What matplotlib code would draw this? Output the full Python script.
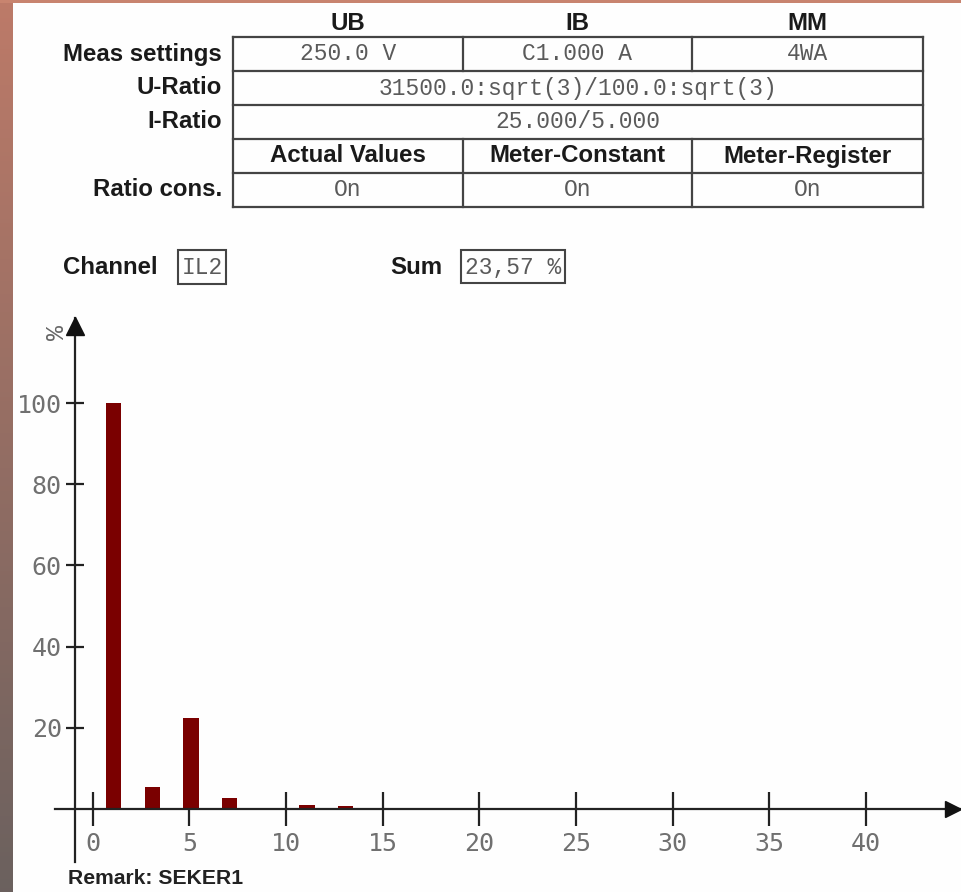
import numpy as np
import matplotlib.pyplot as plt
from matplotlib.patches import Rectangle

# table contents
col_headers = ['UB', 'IB', 'MM']
row_labels = ['Meas settings', 'U-Ratio', 'I-Ratio', '', 'Ratio cons.']
meas_settings = ['250.0 V', 'C1.000 A', '4WA']
u_ratio = '31500.0:sqrt(3)/100.0:sqrt(3)'
i_ratio = '25.000/5.000'
mode_headers = ['Actual Values', 'Meter-Constant', 'Meter-Register']
ratio_cons = ['On', 'On', 'On']

channel = 'IL2'
sum_text = '23,57 %'
remark = 'Remark: SEKER1'

# harmonic spectrum (% of fundamental)
harmonics = list(range(1, 16))
values = [100, 0.3, 5.4, 0.3, 22.5, 0.3, 2.7, 0.3, 0.3, 0.0, 1.0, 0.0, 0.8, 0.0, 0.0]
x_ticks = [0, 5, 10, 15, 20, 25, 30, 35, 40]
y_ticks = [20, 40, 60, 80, 100]

W, H = 961, 892
BOLD = dict(family='Liberation Sans', fontweight='bold', fontsize=17.3, color='#1a1a1a')
MONO = dict(family='Liberation Mono', fontsize=16.5, color='#5a5a5a')
LINE = '#444444'

fig = plt.figure(figsize=(W / 100, H / 100), dpi=100)
fig.patch.set_facecolor('#fefefe')

# background axes in pixel coordinates
bg = fig.add_axes([0, 0, 1, 1])
bg.set_xlim(0, W)
bg.set_ylim(H, 0)
bg.axis('off')

# brownish frame on the left and top
top_c = np.array([0.74, 0.48, 0.41])
bot_c = np.array([0.42, 0.38, 0.37])
t = np.linspace(0, 1, 200)[:, None, None]
grad = top_c * (1 - t) + bot_c * t
bg.imshow(grad, extent=[0, 13, H, 0], aspect='auto', zorder=0)
bg.add_patch(Rectangle((0, 0), W, 3.3, color='#c8846f', lw=0, zorder=1))
bg.set_xlim(0, W)
bg.set_ylim(H, 0)

# table geometry
cols = [233, 463, 692, 923]
rows = [37, 71, 105, 139, 173, 207]
for y in rows:
    bg.plot([cols[0], cols[-1]], [y, y], color=LINE, lw=1.6)
for x in (cols[0], cols[-1]):
    bg.plot([x, x], [rows[0], rows[-1]], color=LINE, lw=1.6)
for x in cols[1:3]:
    bg.plot([x, x], [rows[0], rows[1]], color=LINE, lw=1.6)
    bg.plot([x, x], [rows[3], rows[5]], color=LINE, lw=1.6)

centers = [(cols[i] + cols[i + 1]) / 2 for i in range(3)]
mid = [(rows[i] + rows[i + 1]) / 2 for i in range(5)]
for c, h in zip(centers, col_headers):
    bg.text(c, 24, h, ha='center', va='center', **BOLD)
for r, lab in zip(mid, row_labels):
    bg.text(222, r, lab, ha='right', va='center', **BOLD)
for c, v in zip(centers, meas_settings):
    bg.text(c, mid[0], v, ha='center', va='center', **MONO)
bg.text((cols[0] + cols[-1]) / 2, mid[1], u_ratio, ha='center', va='center', **MONO)
bg.text((cols[0] + cols[-1]) / 2, mid[2], i_ratio, ha='center', va='center', **MONO)
for c, v in zip(centers, mode_headers):
    bg.text(c, mid[3], v, ha='center', va='center', **BOLD)
for c, v in zip(centers, ratio_cons):
    bg.text(c, mid[4], v, ha='center', va='center', **MONO)

# channel / sum boxes
bg.text(63, 268, 'Channel', ha='left', va='center', **BOLD)
bg.add_patch(Rectangle((178, 250), 48, 34, fill=False, ec=LINE, lw=1.5))
bg.text(202, 268, channel, ha='center', va='center', **MONO)
bg.text(390, 268, 'Sum', ha='left', va='center', **BOLD)
bg.add_patch(Rectangle((461, 250), 104, 33, fill=False, ec=LINE, lw=1.5))
bg.text(513, 268, sum_text, ha='center', va='center', **MONO)

bg.text(68, 878, remark, ha='left', va='center', family='Liberation Sans',
        fontweight='bold', fontsize=15.2, color='#222222')
bg.text(57, 333, '%', ha='center', va='center', family='Liberation Mono',
        fontsize=18, color='#666666', rotation=90)

# chart axes: pixel mapping of the harmonic scale
X0, XS = 92.7, 19.33
Y0, YS = 809, 4.06
left_px, right_px, top_px, bot_px = 55, 960, 318, 862
ax = fig.add_axes([left_px / W, 1 - bot_px / H, (right_px - left_px) / W, (bot_px - top_px) / H])
ax.patch.set_alpha(0)
ax.set_xlim((left_px - X0) / XS, (right_px - X0) / XS)
ax.set_ylim((Y0 - bot_px) / YS, (Y0 - top_px) / YS)

ax.bar([h + 0.08 for h in harmonics], values, width=0.8, color='#7a0000', lw=0, zorder=2)

for s in ('top', 'right'):
    ax.spines[s].set_visible(False)
ax.spines['left'].set_position(('data', (75 - X0) / XS))
ax.spines['bottom'].set_position(('data', 0))
for s in ('left', 'bottom'):
    ax.spines[s].set_color('#222222')
    ax.spines[s].set_linewidth(1.6)

ax.plot(0.992, 0, marker='>', ms=11, color='#111111', transform=ax.get_yaxis_transform(),
        clip_on=False, zorder=3)
ax.plot((75 - X0) / XS, 0.985, marker='^', ms=13, color='#111111',
        transform=ax.get_xaxis_transform(), clip_on=False, zorder=3)

ax.set_xticks(x_ticks)
ax.set_yticks(y_ticks)
ax.tick_params(axis='x', direction='inout', length=24.5, width=1.6, color='#222222',
               labelcolor='#707070', labelsize=18, pad=4, labelfontfamily='DejaVu Sans Mono')
ax.tick_params(axis='y', direction='inout', length=13, width=1.6, color='#222222',
               labelcolor='#707070', labelsize=18, pad=3, labelfontfamily='DejaVu Sans Mono')

fig.savefig('out.png', dpi=100, facecolor=fig.get_facecolor())
